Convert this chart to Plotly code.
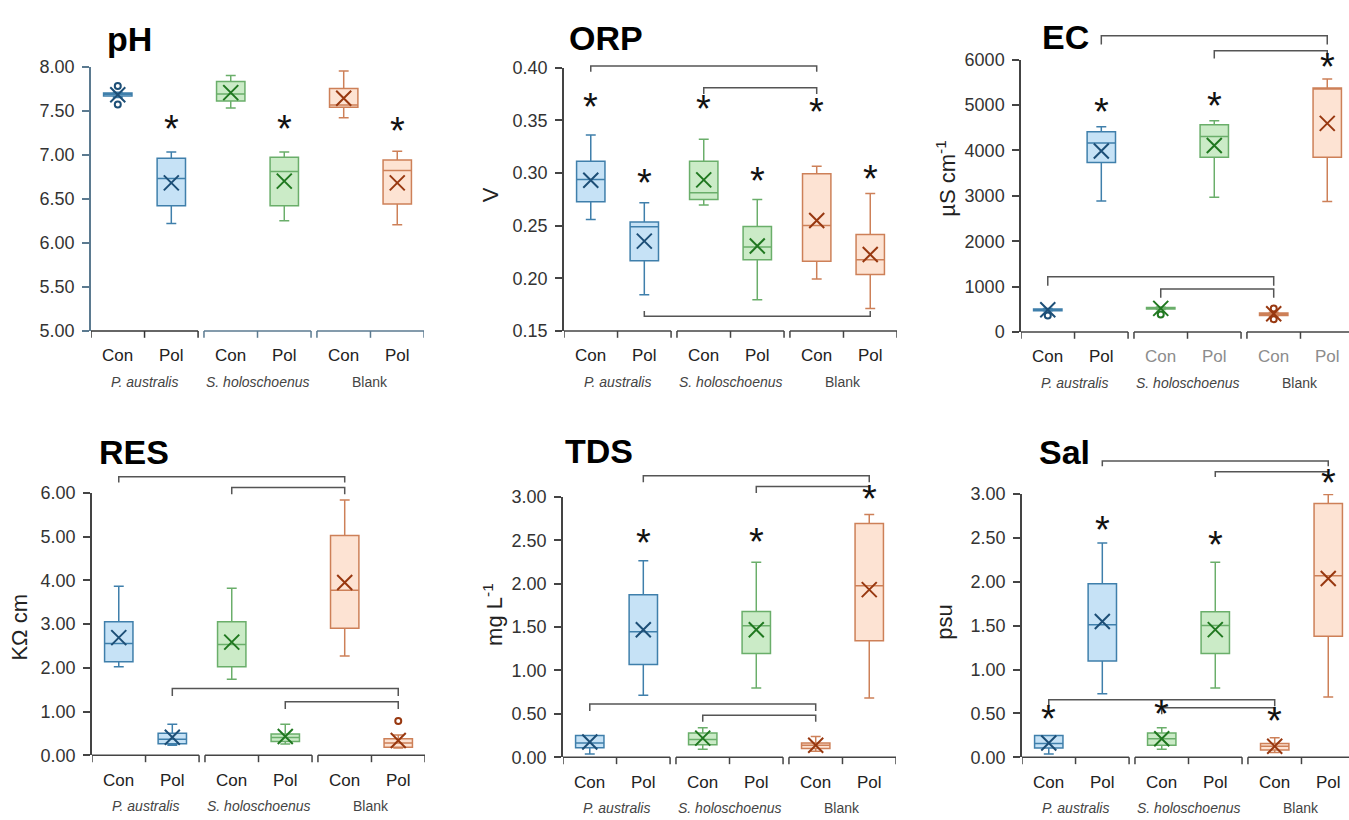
import plotly.graph_objects as go

W, H = 1349, 820

categories = ["Con", "Pol", "Con", "Pol", "Con", "Pol"]
groups = ["<i>P. australis</i>", "<i>S. holoschoenus</i>", "Blank"]

# order of boxes: P.aus Con, P.aus Pol, S.hol Con, S.hol Pol, Blank Con, Blank Pol
ph_low  = [7.65, 6.22, 7.53, 6.25, 7.42, 6.205]
ph_q1   = [7.665, 6.42, 7.61, 6.42, 7.54, 6.44]
ph_med  = [7.685, 6.73, 7.69, 6.81, 7.565, 6.82]
ph_q3   = [7.70, 6.96, 7.83, 6.97, 7.75, 6.94]
ph_high = [7.71, 7.03, 7.90, 7.03, 7.95, 7.04]
ph_mean = [7.68, 6.68, 7.705, 6.70, 7.64, 6.68]
ph_out  = [[7.78, 7.57], [], [], [], [], []]
ph_star = [None, 7.23, None, 7.23, None, 7.21]
ph_brk  = []

orp_low  = [0.2557, 0.1843, 0.2696, 0.1797, 0.1994, 0.1713]
orp_q1   = [0.2727, 0.2167, 0.2748, 0.2177, 0.2161, 0.2035]
orp_med  = [0.2937, 0.2489, 0.2813, 0.2297, 0.2501, 0.2177]
orp_q3   = [0.311, 0.2535, 0.311, 0.2492, 0.2993, 0.2415]
orp_high = [0.336, 0.2718, 0.332, 0.2748, 0.3064, 0.2804]
orp_mean = [0.293, 0.2353, 0.2934, 0.2307, 0.2548, 0.2226]
orp_out  = [[], [], [], [], [], []]
orp_star = [0.3577, 0.2857, 0.356, 0.2872, 0.353, 0.2897]
orp_brk  = [(0, 4, 0.4015, 0.396), (2, 4, 0.3808, 0.375), (1, 5, 0.164, 0.169)]

ec_low  = [460, 2885, 495, 2971, 345, 2878]
ec_q1   = [470, 3738, 505, 3852, 360, 3852]
ec_med  = [488, 4167, 523, 4310, 390, 5356]
ec_q3   = [505, 4411, 540, 4568, 420, 5377]
ec_high = [515, 4525, 550, 4654, 435, 5578]
ec_mean = [490, 3988, 520, 4110, 400, 4597]
ec_out  = [[365], [], [387], [], [516, 280], []]
ec_star = [None, 4747, None, 4869, None, 5728]
ec_brk  = [(1, 5, 6530, 6337), (3, 5, 6200, 6029), (0, 4, 1217, 1017), (2, 4, 945, 752)]

res_low  = [2.025, 0.23, 1.743, 0.26, 2.27, 0.17]
res_q1   = [2.143, 0.267, 2.025, 0.319, 2.907, 0.185]
res_med  = [2.559, 0.371, 2.536, 0.408, 3.775, 0.282]
res_q3   = [3.056, 0.504, 3.056, 0.49, 5.029, 0.378]
res_high = [3.864, 0.712, 3.82, 0.712, 5.837, 0.467]
res_mean = [2.692, 0.415, 2.588, 0.43, 3.953, 0.341]
res_out  = [[], [], [], [], [], [0.786]]
res_star = [None, None, None, None, None, None]
res_brk  = [(0, 4, 6.371, 6.237), (2, 4, 6.126, 5.97), (1, 5, 1.528, 1.357), (3, 5, 1.224, 1.06)]

tds_low  = [0.0375, 0.716, 0.094, 0.799, 0.07, 0.6825]
tds_q1   = [0.109, 1.069, 0.146, 1.196, 0.101, 1.3425]
tds_med  = [0.165, 1.4475, 0.206, 1.515, 0.139, 1.976]
tds_q3   = [0.251, 1.871, 0.281, 1.68, 0.165, 2.6925]
tds_high = [0.251, 2.265, 0.341, 2.246, 0.24, 2.7975]
tds_mean = [0.176, 1.47, 0.221, 1.47, 0.139, 1.931]
tds_out  = [[], [], [], [], [], []]
tds_star = [None, 2.4075, None, 2.426, None, 2.921]
tds_brk  = [(1, 5, 3.244, 3.169), (3, 5, 3.12, 3.045), (0, 4, 0.615, 0.5325), (2, 4, 0.484, 0.409)]

sal_low  = [0.037, 0.723, 0.093, 0.79, 0.056, 0.686]
sal_q1   = [0.1075, 1.098, 0.137, 1.183, 0.082, 1.379]
sal_med  = [0.156, 1.509, 0.211, 1.502, 0.126, 2.069]
sal_q3   = [0.248, 1.976, 0.278, 1.658, 0.156, 2.892]
sal_high = [0.248, 2.44, 0.337, 2.221, 0.222, 2.993]
sal_mean = [0.163, 1.546, 0.211, 1.454, 0.126, 2.036]
sal_out  = [[], [], [], [], [], []]
sal_star = [0.3745, 2.536, 0.434, 2.358, 0.36, 3.067]
sal_brk  = [(1, 5, 3.374, 3.315), (3, 5, 3.252, 3.193), (0, 4, 0.656, 0.582), (2, 4, 0.564, 0.49)]

line_colors = ["#3f7fab", "#6aae6a", "#cd8058"]
fill_colors = ["#c6e2f6", "#cbebc7", "#fde3d3"]
mean_colors = ["#1d4f77", "#207820", "#983810"]

FONT = "Liberation Sans, Arial, sans-serif"
GAP = 0.11
UNIT = 53.54  # pixels per category unit

panels = [
    dict(title="pH", ytitle=None, x0=91, ytop=58, ybot=329, rng=(5.0, 8.0), step=0.5, fmt="{:.2f}",
         low=ph_low, q1=ph_q1, med=ph_med, q3=ph_q3, high=ph_high, mean=ph_mean, out=ph_out, star=ph_star,
         brk=ph_brk, tpos=(105, 30), ypos=None, axcol="#5b7a90"),
    dict(title="ORP", ytitle="V", x0=564, ytop=59, ybot=329, rng=(0.15, 0.40), step=0.05, fmt="{:.2f}",
         low=orp_low, q1=orp_q1, med=orp_med, q3=orp_q3, high=orp_high, mean=orp_mean, out=orp_out, star=orp_star,
         brk=orp_brk, tpos=(567, 29), ypos=(490, 190), axcol="#444444"),
    dict(title="EC", ytitle="µS cm<sup>-1</sup>", x0=1021, ytop=51, ybot=330, rng=(0, 6000), step=1000, fmt="{:.0f}",
         low=ec_low, q1=ec_q1, med=ec_med, q3=ec_q3, high=ec_high, mean=ec_mean, out=ec_out, star=ec_star,
         brk=ec_brk, tpos=(1040, 28), ypos=(946, 173), axcol="#444444"),
    dict(title="RES", ytitle="KΩ cm", x0=92, ytop=495, ybot=764, rng=(0, 6), step=1, fmt="{:.2f}",
         low=res_low, q1=res_q1, med=res_med, q3=res_q3, high=res_high, mean=res_mean, out=res_out, star=res_star,
         brk=res_brk, tpos=(97, 453), ypos=(20, 633), axcol="#444444"),
    dict(title="TDS", ytitle="mg L<sup>-1</sup>", x0=563, ytop=499, ybot=766, rng=(0, 3), step=0.5, fmt="{:.2f}",
         low=tds_low, q1=tds_q1, med=tds_med, q3=tds_q3, high=tds_high, mean=tds_mean, out=tds_out, star=tds_star,
         brk=tds_brk, tpos=(563, 452), ypos=(493, 620), axcol="#444444"),
    dict(title="Sal", ytitle="psu", x0=1022, ytop=496, ybot=766, rng=(0, 3), step=0.5, fmt="{:.2f}",
         low=sal_low, q1=sal_q1, med=sal_med, q3=sal_q3, high=sal_high, mean=sal_mean, out=sal_out, star=sal_star,
         brk=sal_brk, tpos=(1037, 453), ypos=(945, 628), axcol="#444444"),
]


def pos(i):
    g, c = divmod(i, 2)
    return g * (2 + GAP) + c + 0.5


fig = go.Figure()
shapes, annotations = [], []
layout = {}
total = 6 + 2 * GAP

for k, p in enumerate(panels):
    n = "" if k == 0 else str(k + 1)
    xa, ya = "x" + n, "y" + n
    x1px = min(p["x0"] + total * UNIT, W)
    xmax = (x1px - p["x0"]) / UNIT
    ph = p["ybot"] - p["ytop"]
    lo, hi = p["rng"]

    def frac(v, lo=lo, hi=hi):
        return (v - lo) / (hi - lo)

    for i in range(6):
        g = i // 2
        fig.add_trace(go.Box(
            x=[pos(i)], q1=[p["q1"][i]], median=[p["med"][i]], q3=[p["q3"][i]],
            lowerfence=[p["low"][i]], upperfence=[p["high"][i]], orientation="v",
            width=0.53, whiskerwidth=0.35, fillcolor=fill_colors[g],
            line=dict(color=line_colors[g], width=1.5), boxpoints=False,
            showlegend=False, hoverinfo="skip", xaxis=xa, yaxis=ya))
        if p["out"][i]:
            fig.add_trace(go.Scatter(
                x=[pos(i)] * len(p["out"][i]), y=p["out"][i], mode="markers",
                marker=dict(symbol="circle-open", size=6, color=mean_colors[g], line=dict(width=2)),
                showlegend=False, hoverinfo="skip", cliponaxis=False, xaxis=xa, yaxis=ya))
        fig.add_trace(go.Scatter(
            x=[pos(i)], y=[p["mean"][i]], mode="markers",
            marker=dict(symbol="x-thin-open", size=15, color=mean_colors[g], line=dict(width=2, color=mean_colors[g])),
            showlegend=False, hoverinfo="skip", cliponaxis=False, xaxis=xa, yaxis=ya))
        if p["star"][i] is not None:
            annotations.append(dict(x=pos(i), y=frac(p["star"][i]), xref=xa, yref=ya + " domain",
                                    text="*", showarrow=False, yanchor="middle", yshift=5,
                                    font=dict(family=FONT, size=38, color="#111")))

    # brackets
    for a, b, yl, yleg in p["brk"]:
        xa_, xb_ = pos(a), pos(b)
        path = f"M {xa_},{frac(yleg)} L {xa_},{frac(yl)} L {xb_},{frac(yl)} L {xb_},{frac(yleg)}"
        shapes.append(dict(type="path", path=path, xref=xa, yref=ya + " domain",
                           line=dict(color="#555555", width=1.5)))

    # x-axis group segments
    tick = 7 / ph
    for g in range(3):
        s = g * (2 + GAP)
        col = p["axcol"] if (k != 0 or g > 0) else "#333333"
        shapes.append(dict(type="line", x0=s, x1=s + 2, y0=0, y1=0, xref=xa, yref=ya + " domain",
                           line=dict(color=col, width=1.5)))
        for t in (s, s + 1, s + 2):
            shapes.append(dict(type="line", x0=t, x1=t, y0=0, y1=-tick, xref=xa, yref=ya + " domain",
                               line=dict(color=col, width=1.5)))
        annotations.append(dict(x=s + 1, y=0, xref=xa, yref=ya + " domain", yshift=-51,
                                text=groups[g], showarrow=False, yanchor="middle",
                                font=dict(family=FONT, size=14, color="#444")))
    for i in range(6):
        col = "#222"
        if k == 2 and i >= 2:
            col = "#8c8c8c"
        annotations.append(dict(x=pos(i), y=0, xref=xa, yref=ya + " domain", yshift=-25,
                                text=categories[i], showarrow=False, yanchor="middle",
                                font=dict(family=FONT, size=17, color=col)))

    # title
    annotations.append(dict(x=p["tpos"][0] / W, y=1 - p["tpos"][1] / H, xref="paper", yref="paper",
                            text="<b>" + p["title"] + "</b>", showarrow=False, xanchor="left", yanchor="middle",
                            font=dict(family=FONT, size=34, color="#000")))
    if p["ytitle"]:
        annotations.append(dict(x=p["ypos"][0] / W, y=1 - p["ypos"][1] / H, xref="paper", yref="paper",
                                text=p["ytitle"], showarrow=False, textangle=-90,
                                xanchor="center", yanchor="middle",
                                font=dict(family=FONT, size=22, color="#222")))

    nt = int(round((hi - lo) / p["step"]))
    tv = [lo + j * p["step"] for j in range(nt + 1)]
    layout["xaxis" + n] = dict(domain=[p["x0"] / W, x1px / W], range=[0, xmax], visible=False,
                               anchor=ya)
    layout["yaxis" + n] = dict(domain=[1 - p["ybot"] / H, 1 - p["ytop"] / H], range=[lo, hi],
                               anchor=xa, showgrid=False, zeroline=False, showline=True,
                               linecolor=p["axcol"], linewidth=1.5, ticks="outside", ticklen=7,
                               tickwidth=1.5, tickcolor=p["axcol"], tickvals=tv,
                               ticktext=[p["fmt"].format(v) for v in tv], ticklabelstandoff=4,
                               tickfont=dict(family=FONT, size=18, color="#333"))

fig.update_layout(width=W, height=H, margin=dict(l=0, r=0, t=0, b=0), plot_bgcolor="white",
                  paper_bgcolor="white", shapes=shapes, annotations=annotations, **layout)
fig.write_html("out.html")
